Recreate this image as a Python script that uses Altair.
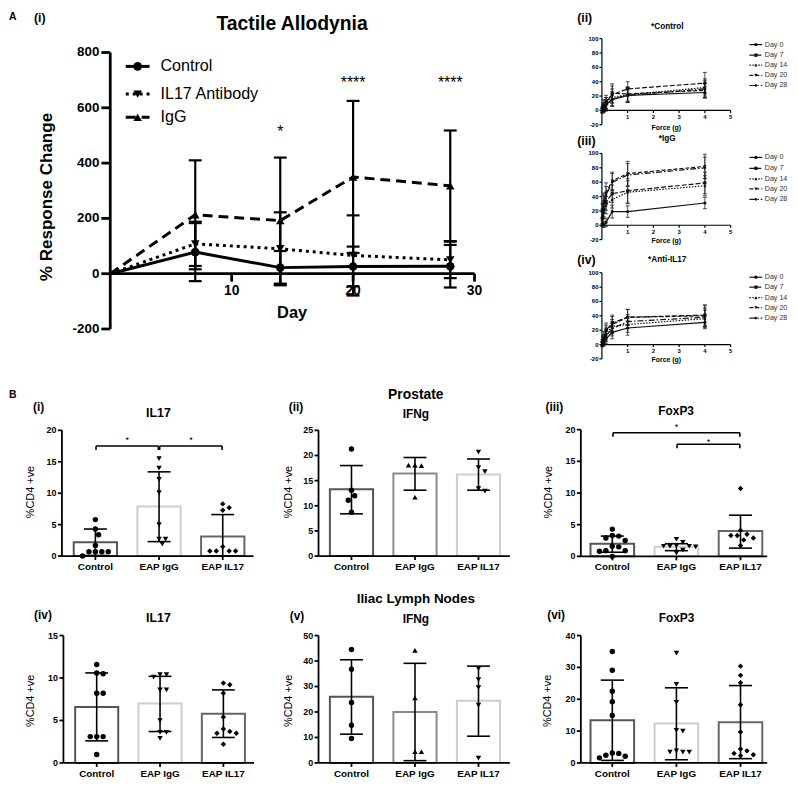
import altair as alt
import pandas as pd

W, H = 790, 777
M = 8
FONT = "Liberation Sans"


def P(v):
    return v - M


ONE = pd.DataFrame({"k": [0]})

# ================= DATA =================
# ---- A (i) Tactile allodynia ----
days = [0, 7, 14, 20, 28]
a_series = ["Control", "IL17 Antibody", "IgG"]
control_mean = [0, 78, 22, 26, 27]
control_err = [0, 105, 60, 72, 77]
il17ab_mean = [0, 108, 90, 66, 50]
il17ab_err = [0, 80, 132, 145, 66]
igg_mean = [0, 213, 192, 350, 318]
igg_err = [0, 197, 228, 275, 200]
sig_days = [14, 20, 28]
sig_marks = ["*", "****", "****"]
sig_level = [528, 705, 705]
a_yticks = [-200, 0, 200, 400, 600, 800]
a_xticks = [10, 20, 30]

# ---- A (ii)-(iv) von Frey curves ----
forces = [0.02, 0.07, 0.16, 0.4, 1.0, 4.0]
vf_days = ["Day 0", "Day 7", "Day 14", "Day 20", "Day 28"]
vf_control = [[0, 3, 8, 15, 21, 25], [2, 7, 12, 22, 30, 38], [1, 4, 10, 18, 22, 32],
              [0, 5, 10, 24, 23, 28], [-1, 3, 6, 16, 21, 30]]
vf_control_err = [[3, 5, 7, 9, 10, 8], [4, 8, 9, 12, 10, 15], [3, 6, 8, 12, 10, 12],
                  [3, 6, 8, 13, 10, 10], [3, 5, 7, 10, 10, 12]]
vf_igg = [[0, 1, 4, 19, 19, 31], [10, 22, 33, 44, 48, 59], [5, 18, 28, 36, 46, 55],
          [20, 33, 45, 62, 72, 82], [15, 30, 42, 60, 70, 80]]
vf_igg_err = [[2, 4, 6, 9, 8, 8], [8, 10, 12, 12, 17, 15], [6, 9, 12, 12, 16, 14],
              [10, 12, 14, 12, 17, 17], [8, 12, 12, 12, 16, 15]]
vf_anti = [[0, 3, 8, 17, 23, 31], [3, 10, 20, 30, 38, 41], [2, 7, 14, 25, 28, 36],
           [1, 8, 18, 28, 38, 40], [0, 5, 12, 22, 32, 38]]
vf_anti_err = [[3, 5, 7, 9, 10, 9], [4, 8, 10, 11, 11, 14], [3, 6, 9, 10, 11, 12],
               [3, 6, 9, 11, 11, 15], [3, 5, 8, 10, 10, 13]]
vf_yticks = [-20, 0, 20, 40, 60, 80, 100]
vf_xticks = [1, 2, 3, 4, 5]

# ---- B: %CD4+ cells ----
groups = ["Control", "EAP IgG", "EAP IL17"]

prost_il17_pts = [[5.8, 4.3, 3.4, 1.7, 0.7, 0.7, 0.7, 0.7, 0.0],
                  [15.5, 14.0, 12.2, 10.1, 5.0, 2.7, 2.7, 1.9],
                  [8.3, 7.7, 7.3, 1.5, 0.8, 0.8, 0.8, 0.8]]
prost_il17_mean = [2.2, 7.9, 3.1]
prost_il17_lo = [0.1, 2.3, 0.0]
prost_il17_hi = [4.3, 13.4, 6.6]
prost_il17_sig = [(0, 1, 17.5, 18.8), (1, 2, 17.5, 18.8)]

prost_ifng_pts = [[21.3, 13.1, 12.0, 11.1, 8.7],
                  [18.1, 18.0, 18.1, 11.7],
                  [20.7, 17.6, 16.8, 13.4, 12.9]]
prost_ifng_mean = [13.3, 16.4, 16.2]
prost_ifng_lo = [8.4, 13.1, 13.1]
prost_ifng_hi = [18.0, 19.6, 19.3]

prost_foxp3_pts = [[4.3, 3.3, 3.2, 2.9, 2.5, 1.6, 1.5, 0.9, 0.9, 0.8, 0.0],
                   [2.7, 2.2, 1.7, 1.6, 1.6, 1.6, 1.5, 1.0, 0.5],
                   [10.7, 4.1, 3.5, 3.3, 3.3, 2.9, 2.6, 1.7]]
prost_foxp3_mean = [2.0, 1.5, 4.0]
prost_foxp3_lo = [0.65, 0.9, 1.3]
prost_foxp3_hi = [3.2, 2.0, 6.5]
prost_foxp3_sig = [(0, 2, 19.5, 20.8), (1, 2, 17.7, 18.5)]

ln_il17_pts = [[11.6, 10.6, 10.5, 8.2, 8.2, 3.1, 3.1, 3.1, 1.0],
               [10.4, 10.4, 10.1, 8.6, 8.6, 5.0, 3.6, 3.6, 2.9],
               [9.4, 9.2, 8.2, 5.4, 4.0, 3.7, 3.5, 3.5, 2.2]]
ln_il17_mean = [6.6, 7.0, 5.8]
ln_il17_lo = [2.6, 3.7, 3.0]
ln_il17_hi = [10.6, 10.2, 8.6]

ln_ifng_pts = [[44.5, 36.8, 23.7, 14.8, 9.6],
               [44.2, 25.5, 4.4, 4.4],
               [37.0, 32.7, 29.6, 22.7, 1.9]]
ln_ifng_mean = [26.0, 20.0, 24.4]
ln_ifng_lo = [11.3, 0.9, 10.5]
ln_ifng_hi = [40.5, 39.1, 38.0]

ln_foxp3_pts = [[35.0, 29.1, 22.5, 19.2, 14.9, 3.1, 3.0, 2.4, 2.1, 1.6],
                [34.5, 24.7, 19.0, 10.2, 10.0, 3.8, 3.4, 3.4, 3.4],
                [30.4, 27.5, 25.2, 18.3, 9.7, 4.4, 3.8, 3.0, 2.6, 2.3]]
ln_foxp3_mean = [13.4, 12.4, 12.8]
ln_foxp3_lo = [0.8, 1.0, 1.35]
ln_foxp3_hi = [26.0, 23.6, 24.3]

# ================= STYLE / LAYOUT =================
DARK, DARK2, MID, LIGHT = "#555555", "#666666", "#8a8a8a", "#cdcdcd"


def hscale(dom, left, right):
    return alt.Scale(domain=list(dom), range=[P(left), P(right)], nice=False, zero=False)


def vscale(dom, bottom, top):
    return alt.Scale(domain=list(dom), range=[P(bottom), P(top)], nice=False, zero=False)


def txt(text, x, y, size, weight="bold", align="center", angle=0, color="black"):
    return alt.Chart(ONE).mark_text(
        text=text, font=FONT, fontSize=size, fontWeight=weight, align=align,
        baseline="middle", angle=angle, color=color
    ).encode(x=alt.value(P(x)), y=alt.value(P(y)))


def y_axis(xsc, ysc, xval, dom, values, size, lw, tick, pad, labels=None):
    X = lambda f: alt.X(f, scale=xsc, axis=None)
    Y = lambda f: alt.Y(f, scale=ysc, axis=None)
    labels = labels or [str(v) for v in values]
    d = alt.Chart(pd.DataFrame({"x": [xval], "a": [dom[0]], "b": [dom[1]]}))
    t = alt.Chart(pd.DataFrame({"x": [xval] * len(values), "v": values, "lab": labels}))
    return [
        d.mark_rule(strokeWidth=lw, color="black").encode(x=X("x:Q"), y=Y("a:Q"), y2="b:Q"),
        t.mark_rule(strokeWidth=lw, color="black", x2Offset=-tick).encode(
            x=X("x:Q"), x2="x:Q", y=Y("v:Q")),
        t.mark_text(font=FONT, fontSize=size, fontWeight="bold", align="right", baseline="middle",
                    dx=-(tick + pad), color="black").encode(x=X("x:Q"), y=Y("v:Q"), text="lab:N"),
    ]


def x_axis(xsc, ysc, yval, dom, values, size, lw, tick, pad, labels=None):
    X = lambda f: alt.X(f, scale=xsc, axis=None)
    Y = lambda f: alt.Y(f, scale=ysc, axis=None)
    labels = labels or [str(v) for v in values]
    d = alt.Chart(pd.DataFrame({"y": [yval], "a": [dom[0]], "b": [dom[1]]}))
    t = alt.Chart(pd.DataFrame({"y": [yval] * len(values), "v": values, "lab": labels}))
    return [
        d.mark_rule(strokeWidth=lw, color="black").encode(y=Y("y:Q"), x=X("a:Q"), x2="b:Q"),
        t.mark_rule(strokeWidth=lw, color="black", y2Offset=tick).encode(
            y=Y("y:Q"), y2="y:Q", x=X("v:Q")),
        t.mark_text(font=FONT, fontSize=size, fontWeight="bold", align="center", baseline="top",
                    dy=tick + pad, color="black").encode(x=X("v:Q"), y=Y("y:Q"), text="lab:N"),
    ]


layers = []

# ---------------- Panel A (i) ----------------
A_BOX = (111.3, 479.3, 328.3, 49.0)  # left, right, bottom, top (page px)
A_SHAPES = ["circle", "triangle-down", "triangle-up"]
A_DASH = [None, [3, 4], [10, 6]]


def panel_a():
    l, r, bt, tp = A_BOX
    xsc = hscale((0, 30), l, r)
    ysc = vscale((-200, 800), bt, tp)
    X = lambda f: alt.X(f, scale=xsc, axis=None)
    Y = lambda f: alt.Y(f, scale=ysc, axis=None)
    cap = 6.5 / ((r - l) / 30)
    rows = []
    for name, mean, err, shp in zip(a_series, [control_mean, il17ab_mean, igg_mean],
                                    [control_err, il17ab_err, igg_err], A_SHAPES):
        for d, m, e in zip(days, mean, err):
            rows.append(dict(series=name, day=d, mean=m, lo=m - e, hi=m + e, err=e, shape=shp))
    df = pd.DataFrame(rows)
    base = alt.Chart(df)
    eb = base.transform_filter("datum.err > 0")
    out = [eb.mark_rule(strokeWidth=2.2, color="black").encode(x=X("day:Q"), y=Y("lo:Q"), y2="hi:Q")]
    for f in ["hi", "lo"]:
        out.append(eb.transform_calculate(c1=f"datum.day - {cap}", c2=f"datum.day + {cap}")
                   .mark_rule(strokeWidth=2.2, color="black").encode(
            x=X("c1:Q"), x2="c2:Q", y=Y(f"{f}:Q")))
    for name, dash in zip(a_series, A_DASH):
        kw = dict(strokeWidth=3, color="black")
        if dash:
            kw["strokeDash"] = dash
        out.append(base.transform_filter(alt.datum.series == name).mark_line(**kw).encode(
            x=X("day:Q"), y=Y("mean:Q")))
    out.append(base.transform_filter("datum.day > 0").mark_point(
        filled=True, size=75, color="black", opacity=1).encode(
        x=X("day:Q"), y=Y("mean:Q"), shape=alt.Shape("shape:N", scale=None)))
    sig = pd.DataFrame({"day": sig_days, "lvl": sig_level, "t": sig_marks})
    out.append(alt.Chart(sig).mark_text(font=FONT, fontSize=16, dy=4.3, color="black",
                                        baseline="middle").encode(
        x=X("day:Q"), y=Y("lvl:Q"), text="t:N"))
    out += y_axis(xsc, ysc, 0, (-200, 800), a_yticks, 13.5, 2.8, 9, 2)
    out += x_axis(xsc, ysc, 0, (0, 30), a_xticks, 14, 2.8, 8, 3)
    return alt.layer(*out)


layers.append(panel_a())

# legend of A(i)
for name, dash, shp, y in zip(a_series, A_DASH, A_SHAPES, [63, 91, 114.5]):
    kw = dict(strokeWidth=3, color="black")
    if dash:
        kw["strokeDash"] = dash
    layers.append(alt.Chart(ONE).mark_rule(**kw).encode(
        x=alt.value(P(127)), x2=alt.value(P(151)), y=alt.value(P(y))))
    layers.append(alt.Chart(ONE).mark_point(filled=True, size=75, color="black", opacity=1, shape=shp).encode(
        x=alt.value(P(139)), y=alt.value(P(y))))
    layers.append(txt(name, 162, y, 16.3, weight="normal", align="left"))

layers += [
    txt("A", 9, 13, 10.5, align="left"),
    txt("(i)", 40, 14.5, 12.4),
    txt("Tactile Allodynia", 295, 20.5, 19.5),
    txt("% Response Change", 47, 195, 17.2, angle=270),
    txt("Day", 295, 312.5, 16.5),
]

# ---------------- Panels A (ii)-(iv) ----------------
VF_DASH = [None, [5, 2], [1.5, 1.5], [4, 2], [6, 2, 1.5, 2]]
VF_SHAPE = ["circle", "square", "triangle-up", "triangle-down", "diamond"]


def vf_panel(vals, errs, box):
    l, r, bt, tp = box
    xsc = hscale((0, 5), l, r)
    ysc = vscale((-20, 100), bt, tp)
    X = lambda f: alt.X(f, scale=xsc, axis=None)
    Y = lambda f: alt.Y(f, scale=ysc, axis=None)
    cap = 2.0 / ((r - l) / 5)
    rows = []
    for di, day in enumerate(vf_days):
        for f, v, e in zip(forces, vals[di], errs[di]):
            rows.append(dict(day=day, force=f, v=v, lo=v - e, hi=v + e, shape=VF_SHAPE[di]))
    df = pd.DataFrame(rows)
    base = alt.Chart(df)
    out = [base.mark_rule(strokeWidth=0.8, color="#222").encode(x=X("force:Q"), y=Y("lo:Q"), y2="hi:Q")]
    for f in ["hi", "lo"]:
        out.append(base.transform_calculate(c1=f"datum.force - {cap}", c2=f"datum.force + {cap}")
                   .mark_rule(strokeWidth=0.8, color="#222").encode(
            x=X("c1:Q"), x2="c2:Q", y=Y(f"{f}:Q")))
    for day, dash in zip(vf_days, VF_DASH):
        kw = dict(strokeWidth=1.2, color="#111")
        if dash:
            kw["strokeDash"] = dash
        out.append(base.transform_filter(alt.datum.day == day).mark_line(**kw).encode(
            x=X("force:Q"), y=Y("v:Q")))
    out.append(base.mark_point(filled=True, size=10, color="#111", opacity=1).encode(
        x=X("force:Q"), y=Y("v:Q"), shape=alt.Shape("shape:N", scale=None)))
    out += y_axis(xsc, ysc, 0, (-20, 100), vf_yticks, 6, 1.2, 2.5, 1)
    out += x_axis(xsc, ysc, 0, (0, 5), vf_xticks, 6, 1.2, 2.5, 1)
    return alt.layer(*out)


VF_PANELS = [
    (vf_control, vf_control_err, (608, 738, 122, 35), "*Control", 23, "(ii)", 14.5, 125.2,
     [41, 51.7, 61.7, 72, 82.3]),
    (vf_igg, vf_igg_err, (608, 738, 238, 151), "*IgG", 136.5, "(iii)", 138, 239.8,
     [155, 166, 176.7, 186.7, 197.3]),
    (vf_anti, vf_anti_err, (608, 738, 358.5, 271.5), "*Anti-IL17", 258.3, "(iv)", 258.5, 359.8,
     [276, 286, 296.7, 306.7, 317.3]),
]

for vals, errs, box, title, ty, lab, ly, fy, legy in VF_PANELS:
    layers.append(vf_panel(vals, errs, box))
    layers.append(txt(title, 674, ty, 8.3))
    layers.append(txt(lab, 583, ly, 12.4, align="left"))
    layers.append(txt("Force (g)", 673, fy, 7))
    for day, dash, shp, y in zip(vf_days, VF_DASH, VF_SHAPE, legy):
        kw = dict(strokeWidth=1.2, color="#111")
        if dash:
            kw["strokeDash"] = dash
        layers.append(alt.Chart(ONE).mark_rule(**kw).encode(
            x=alt.value(P(757)), x2=alt.value(P(770)), y=alt.value(P(y))))
        layers.append(alt.Chart(ONE).mark_point(filled=True, size=11, color="#111", opacity=1, shape=shp).encode(
            x=alt.value(P(763.5)), y=alt.value(P(y))))
        layers.append(txt(day, 772.5, y, 7.2, weight="normal", align="left", color="#333"))

# ---------------- Panels B ----------------
BAR_HALF = 0.34
CAP_HALF = 0.18


def swarm(vals, ppu_y, ppu_x, d=6.5):
    placed, offs = [], []
    cands = [0.0]
    for j in range(1, 40):
        cands += [j * d / 2, -j * d / 2]
    for v in vals:
        yp = v * ppu_y
        for c in cands:
            if all((c - a) ** 2 + (yp - b) ** 2 >= (d * 0.92) ** 2 for a, b in placed):
                break
        placed.append((c, yp))
        offs.append(c / ppu_x)
    return offs


def bar_panel(pts, mean, lo, hi, box, xdom, ymax, step, shapes, strokes, sig=None):
    l, r, bt, tp = box
    xsc = hscale(xdom, l, r)
    ysc = vscale((0, ymax), bt, tp)
    X = lambda f: alt.X(f, scale=xsc, axis=None)
    Y = lambda f: alt.Y(f, scale=ysc, axis=None)
    ppu_y = (bt - tp) / ymax
    ppu_x = (r - l) / (xdom[1] - xdom[0])
    bars = pd.DataFrame({"idx": [0, 1, 2], "mean": mean, "lo": lo, "hi": hi, "col": strokes})
    prow = []
    for i, vals in enumerate(pts):
        for v, o in zip(vals, swarm(vals, ppu_y, ppu_x)):
            prow.append({"pos": i + o, "val": v, "shape": shapes[i]})
    pdf = pd.DataFrame(prow)
    bb = alt.Chart(bars)
    out = [
        bb.transform_calculate(x1=f"datum.idx - {BAR_HALF}", x2=f"datum.idx + {BAR_HALF}", z="0")
        .mark_rect(fill="white", strokeWidth=2).encode(
            x=X("x1:Q"), x2="x2:Q", y=Y("mean:Q"), y2="z:Q",
            stroke=alt.Stroke("col:N", scale=None)),
        bb.mark_rule(strokeWidth=1.6, color="black").encode(x=X("idx:Q"), y=Y("lo:Q"), y2="hi:Q"),
    ]
    for f in ["hi", "lo"]:
        out.append(bb.transform_calculate(c1=f"datum.idx - {CAP_HALF}", c2=f"datum.idx + {CAP_HALF}")
                   .mark_rule(strokeWidth=1.6, color="black").encode(
            x=X("c1:Q"), x2="c2:Q", y=Y(f"{f}:Q")))
    out.append(alt.Chart(pdf).mark_point(filled=True, size=30, color="black", opacity=1).encode(
        x=X("pos:Q"), y=Y("val:Q"), shape=alt.Shape("shape:N", scale=None)))
    if sig:
        drop = 4.0 / ppu_y
        srows = []
        for a, b, lvl, slvl in sig:
            srows.append(dict(a=a + 0.01, b=b - 0.01, lvl=lvl, low=lvl - drop, mid=(a + b) / 2, slvl=slvl))
        sdf = alt.Chart(pd.DataFrame(srows))
        out.append(sdf.mark_rule(strokeWidth=1.6, color="black").encode(
            x=X("a:Q"), x2="b:Q", y=Y("lvl:Q")))
        for f in ["a", "b"]:
            out.append(sdf.mark_rule(strokeWidth=1.6, color="black").encode(
                x=X(f"{f}:Q"), y=Y("lvl:Q"), y2="low:Q"))
        out.append(sdf.mark_text(text="*", font=FONT, fontSize=9, dy=2.4, baseline="middle",
                                 color="black").encode(x=X("mid:Q"), y=Y("slvl:Q")))
    out += y_axis(xsc, ysc, xdom[0], (0, ymax), list(range(0, ymax + 1, step)), 9, 1.8, 4, 1.5)
    out += x_axis(xsc, ysc, 0, xdom, [0, 1, 2], 10, 1.8, 4, 2, labels=groups)
    return alt.layer(*out)


C1 = (-0.525, 2.483)
C2 = (-0.519, 2.494)
C3 = (-0.491, 2.417)
SH_A = ["circle", "triangle-down", "diamond"]
SH_B = ["circle", "triangle-up", "triangle-down"]
ST_A = [DARK, LIGHT, DARK2]
ST_B = [DARK, MID, LIGHT]

layers += [
    bar_panel(prost_il17_pts, prost_il17_mean, prost_il17_lo, prost_il17_hi,
              (62.5, 256, 557.7, 430.7), C1, 20, 5, SH_A, ST_A, prost_il17_sig),
    bar_panel(prost_ifng_pts, prost_ifng_mean, prost_ifng_lo, prost_ifng_hi,
              (321.7, 515, 557.7, 430.7), C2, 25, 5, SH_B, ST_B),
    bar_panel(prost_foxp3_pts, prost_foxp3_mean, prost_foxp3_lo, prost_foxp3_hi,
              (586.7, 775, 558, 430), C3, 20, 5, SH_A, ST_A, prost_foxp3_sig),
    bar_panel(ln_il17_pts, ln_il17_mean, ln_il17_lo, ln_il17_hi,
              (64, 256.5, 766.7, 638), C1, 15, 5, SH_A, ST_A),
    bar_panel(ln_ifng_pts, ln_ifng_mean, ln_ifng_lo, ln_ifng_hi,
              (321.7, 515, 766.7, 638), C2, 50, 10, SH_B, ST_B),
    bar_panel(ln_foxp3_pts, ln_foxp3_mean, ln_foxp3_lo, ln_foxp3_hi,
              (586.7, 775, 766.7, 638), C3, 40, 10, SH_A, ST_A),
]

layers += [
    txt("B", 9, 395, 10.5, align="left"),
    txt("(i)", 39, 407.5, 12),
    txt("IL17", 160, 413, 12.5),
    txt("(ii)", 299, 407, 12),
    txt("Prostate", 420, 395, 14),
    txt("IFNg", 420, 414, 12),
    txt("(iii)", 560, 407, 12),
    txt("FoxP3", 683, 411.5, 12),
    txt("(iv)", 43.3, 617, 12),
    txt("IL17", 160, 620, 12.5),
    txt("(v)", 300, 618, 12),
    txt("Iliac Lymph Nodes", 420, 601.5, 13.6),
    txt("IFNg", 420, 621.5, 12),
    txt("(vi)", 561.7, 617, 12),
    txt("FoxP3", 683.3, 620.5, 12),
]
for x, y in [(31.7, 493), (291.7, 493), (555, 493), (31.7, 704), (291.7, 704), (554, 704)]:
    layers.append(txt("%CD4 +ve", x, y, 11, weight="normal", angle=270))

chart = alt.layer(*layers).resolve_scale(
    x="independent", y="independent"
).properties(
    width=W, height=H, padding=0, autosize=alt.AutoSizeParams(type="none"), background="white"
).configure_view(stroke=None)

chart.save("out.html", embed_options={"renderer": "svg", "actions": False})
